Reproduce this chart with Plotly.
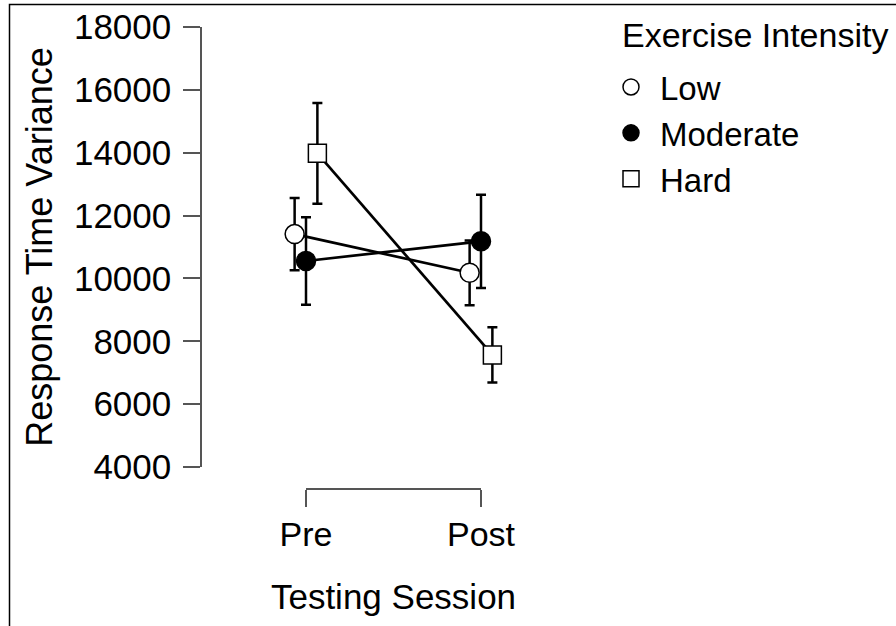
import plotly.graph_objects as go

# ---- data ----
sessions = ["Pre", "Post"]
groups = ["Low", "Moderate", "Hard"]
means = {
    "Low": [11410, 10180],
    "Moderate": [10555, 11180],
    "Hard": [13980, 7565],
}
errors = {
    "Low": [1150, 1030],
    "Moderate": [1395, 1485],
    "Hard": [1605, 880],
}
y_ticks = [4000, 6000, 8000, 10000, 12000, 14000, 16000, 18000]
legend_title = "Exercise Intensity"

# ---- styles ----
W, H = 896, 626
FONT = "Liberation Sans, Arial, sans-serif"
AX = "#555555"
dodge = {"Low": -0.065, "Moderate": 0.0, "Hard": 0.065}
marker_style = {
    "Low": dict(symbol="circle", size=19, color="white", line=dict(color="black", width=1.5)),
    "Moderate": dict(symbol="circle", size=19, color="black", line=dict(color="black", width=1.5)),
    "Hard": dict(symbol="square", size=18, color="white", line=dict(color="black", width=1.5)),
}

def px_x(p):
    return p / W

def px_y(p):
    return 1 - p / H

# pixel geometry of reference
yaxis_left = 202
pre_px, post_px = 306, 481
plot_right = 600
y_top, y_bot = 27, 467
xaxis_line = 489

unit = post_px - pre_px
x_lo = (yaxis_left - pre_px) / unit
x_hi = (plot_right - pre_px) / unit

fig = go.Figure()
xpos = list(range(len(sessions)))

# connecting lines (drawn first, kept out of the legend)
for g in groups:
    fig.add_trace(go.Scatter(
        x=[x + dodge[g] for x in xpos],
        y=means[g],
        mode="lines",
        line=dict(color="black", width=2.7),
        showlegend=False, hoverinfo="skip", legendgroup=g,
    ))

# markers with error bars
for g in groups:
    fig.add_trace(go.Scatter(
        x=[x + dodge[g] for x in xpos],
        y=means[g],
        name=g,
        mode="markers",
        marker=marker_style[g],
        error_y=dict(type="data", array=errors[g], visible=True,
                     color="black", thickness=2.5, width=5),
        cliponaxis=False, legendgroup=g,
    ))

# helper trace so the bracket-style x axis renders
fig.add_trace(go.Scatter(x=[], y=[], xaxis="x2", yaxis="y", showlegend=False, hoverinfo="skip"))

fig.update_layout(
    width=W, height=H,
    margin=dict(l=0, r=0, t=0, b=0, autoexpand=False),
    paper_bgcolor="white", plot_bgcolor="rgba(0,0,0,0)",
    font=dict(family=FONT, size=35, color="black"),
    showlegend=True,
    legend=dict(
        x=px_x(602), y=px_y(59), xanchor="left", yanchor="top",
        font=dict(size=33),
        itemwidth=48,
        tracegroupgap=0,
        bgcolor="rgba(0,0,0,0)",
    ),
    annotations=[dict(
        text=legend_title, xref="paper", yref="paper",
        x=px_x(620), y=px_y(35), xanchor="left", yanchor="middle",
        showarrow=False, font=dict(size=34),
    )],
    xaxis=dict(
        domain=[px_x(yaxis_left), px_x(plot_right)],
        range=[x_lo, x_hi],
        visible=False,
        fixedrange=True,
    ),
    xaxis2=dict(
        domain=[px_x(pre_px), px_x(post_px)],
        range=[0, 1],
        anchor="free",
        position=px_y(xaxis_line),
        automargin=False,
        showline=True, linecolor=AX, linewidth=1.5,
        ticks="outside", ticklen=17, tickwidth=1.5, tickcolor=AX,
        tickvals=xpos, ticktext=sessions,
        tickfont=dict(size=34),
        ticklabelstandoff=-2,
        showgrid=False, zeroline=False,
        title=dict(text="Testing Session", font=dict(size=35), standoff=32),
    ),
    yaxis=dict(
        domain=[px_y(y_bot), px_y(y_top)],
        range=[y_ticks[0], y_ticks[-1]],
        anchor="x",
        automargin=False,
        showline=True, linecolor=AX, linewidth=1.5,
        ticks="outside", ticklen=17, tickwidth=1.5, tickcolor=AX,
        tickvals=y_ticks, ticktext=[str(v) for v in y_ticks],
        tickfont=dict(size=35),
        ticklabelstandoff=5,
        showgrid=False, zeroline=False,
        title=dict(text="Response Time Variance", font=dict(size=36), standoff=10),
    ),
    shapes=[dict(type="rect", xref="paper", yref="paper",
                 x0=px_x(9.5), x1=1.2, y0=-0.2, y1=px_y(4.5),
                 line=dict(color="black", width=1.5), fillcolor="rgba(0,0,0,0)", layer="below")],
)

fig.write_html("out.html", config={"displayModeBar": False},
               post_script="document.body.style.margin='0';")
